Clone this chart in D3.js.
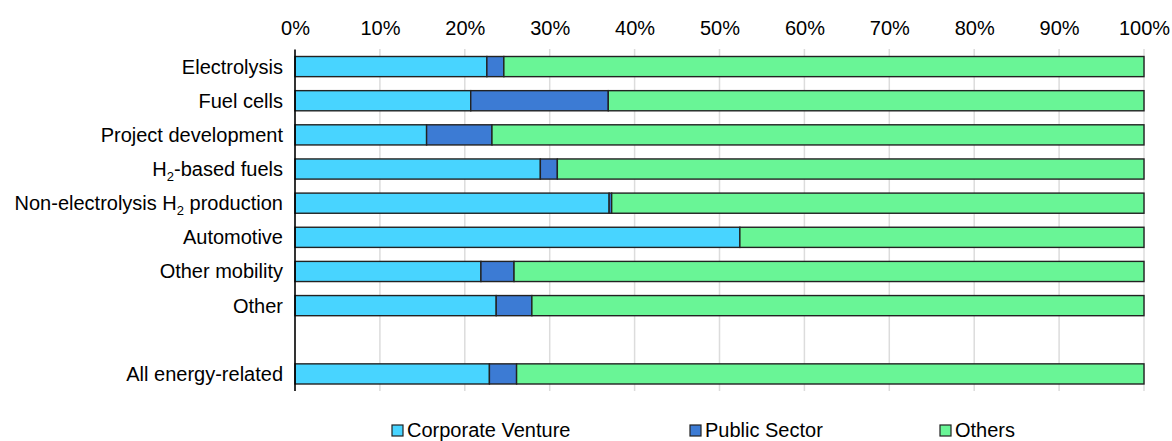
<!DOCTYPE html>
<html>
<head>
<meta charset="utf-8">
<script src="https://cdn.jsdelivr.net/npm/d3@7"></script>
<style>
  html, body { margin: 0; padding: 0; background: #fff; }
  svg { display: block; font-family: Arial, "Liberation Sans", sans-serif; }
</style>
</head>
<body>
<svg id="chart" width="1172" height="441"></svg>
<script>
// Share of investment by investor type, per hydrogen segment (percent)
const categories = [
  "Electrolysis",
  "Fuel cells",
  "Project development",
  "H₂-based fuels",
  "Non-electrolysis H₂ production",
  "Automotive",
  "Other mobility",
  "Other",
  "",                      // spacer row
  "All energy-related"
];
const corporateVenture = [22.6, 20.7, 15.5, 28.9, 37.0, 52.4, 21.9, 23.7, null, 22.9];
const publicSector     = [ 2.0, 16.2,  7.7,  2.0,  0.3,  0.0,  3.9,  4.2, null,  3.2];
const others           = [75.4, 63.1, 76.8, 69.1, 62.7, 47.6, 74.2, 72.1, null, 73.9];

const seriesNames  = ["Corporate Venture", "Public Sector", "Others"];
const seriesColors = ["#48d4ff", "#3c7bd4", "#69f596"];
const tickValues   = [0, 10, 20, 30, 40, 50, 60, 70, 80, 90, 100];

const svg = d3.select("#chart");

const x = d3.scaleLinear().domain([0, 100]).range([295, 1144]);
const rowKeys = categories.map((c, i) => i);
const y = d3.scaleBand().domain(rowKeys).range([49.5, 391])
  .paddingInner(0.41).paddingOuter(0.205);

// vertical gridlines
svg.append("g")
  .selectAll("line")
  .data(tickValues.filter(v => v > 0))
  .join("line")
  .attr("x1", d => x(d)).attr("x2", d => x(d))
  .attr("y1", 49).attr("y2", 391)
  .attr("stroke", "#dcdcdc")
  .attr("stroke-width", 1.5);

// top percentage axis
const axisTop = d3.axisTop(x)
  .tickValues(tickValues)
  .tickFormat(d => d + "%")
  .tickSize(0)
  .tickPadding(14);
const gx = svg.append("g").attr("transform", "translate(0,49)").call(axisTop);
gx.select(".domain").remove();
gx.selectAll("text")
  .attr("font-size", 20)
  .attr("font-family", "Arial, 'Liberation Sans', sans-serif")
  .attr("fill", "#000");

// stacked segments
const rows = rowKeys.filter(i => corporateVenture[i] !== null).map(i => {
  const vals = [corporateVenture[i], publicSector[i], others[i]];
  let acc = 0;
  return vals.map((v, s) => {
    const seg = { row: i, series: s, x0: acc, x1: acc + v };
    acc += v;
    return seg;
  });
}).flat().filter(d => d.x1 - d.x0 > 0);

svg.append("g")
  .selectAll("rect")
  .data(rows)
  .join("rect")
  .attr("x", d => x(d.x0))
  .attr("y", d => y(d.row))
  .attr("width", d => x(d.x1) - x(d.x0))
  .attr("height", y.bandwidth())
  .attr("fill", d => seriesColors[d.series])
  .attr("stroke", "#222")
  .attr("stroke-width", 1.4);

// left axis line
svg.append("line")
  .attr("x1", x(0)).attr("x2", x(0))
  .attr("y1", 49.5).attr("y2", 391)
  .attr("stroke", "#000")
  .attr("stroke-width", 1.6);

// category labels, with the "₂" rendered as a subscript
const labels = svg.append("g")
  .attr("font-size", 20)
  .attr("text-anchor", "end")
  .attr("fill", "#000");

rowKeys.forEach(i => {
  const label = categories[i];
  if (!label) return;
  const t = labels.append("text")
    .attr("x", x(0) - 12)
    .attr("y", y(i) + y.bandwidth() / 2 + 7);
  let shift = 0;
  label.split(/(₂)/).forEach(part => {
    if (!part) return;
    if (part === "₂") {
      t.append("tspan").attr("font-size", 13).attr("dy", 5 - shift).text("2");
      shift = 5;
    } else {
      t.append("tspan").attr("dy", -shift).text(part);
      shift = 0;
    }
  });
});

// legend
const legendX = [392, 690, 940];
const legend = svg.append("g")
  .selectAll("g")
  .data(seriesNames)
  .join("g")
  .attr("transform", (d, i) => `translate(${legendX[i]},425)`);
legend.append("rect")
  .attr("width", 11).attr("height", 11)
  .attr("fill", (d, i) => seriesColors[i])
  .attr("stroke", "#222")
  .attr("stroke-width", 1.2);
legend.append("text")
  .attr("x", 15)
  .attr("y", 12)
  .attr("font-size", 20)
  .attr("fill", "#000")
  .text(d => d);
</script>
</body>
</html>
